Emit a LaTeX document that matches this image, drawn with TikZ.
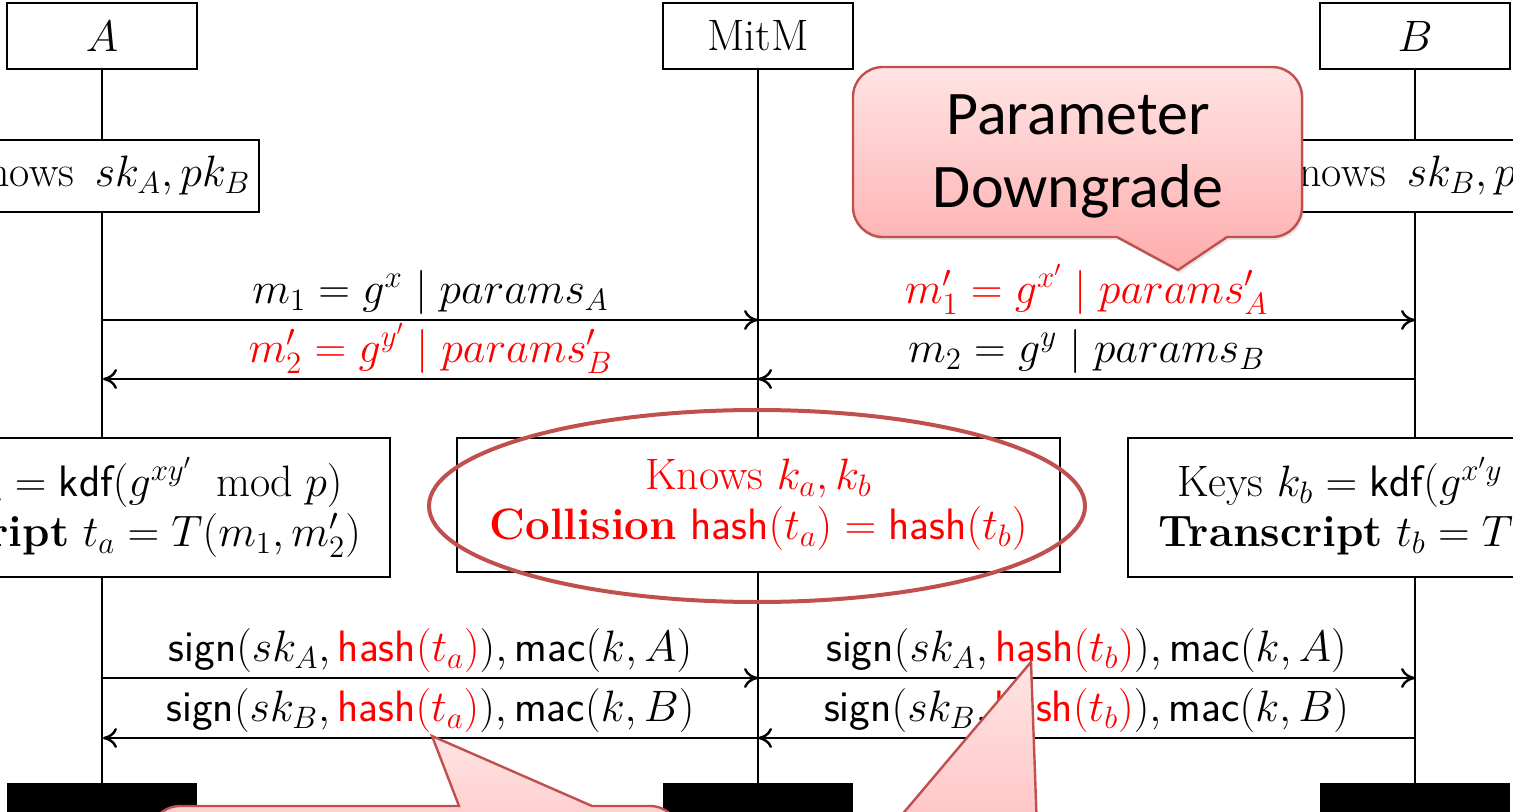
\RequirePackage{fix-cm}
\documentclass[tikz,border=0pt]{standalone}
\usepackage{fontspec}
\newfontfamily\calib{Carlito}
\usetikzlibrary{arrows.meta,shadows}
\DeclareMathSizes{22}{22}{15.5}{11}
\definecolor{calred}{RGB}{192,80,77}
\definecolor{pinktop}{RGB}{255,228,228}
\definecolor{pinkbot}{RGB}{255,172,172}
\definecolor{msgred}{RGB}{255,0,0}
\begin{document}
\begin{tikzpicture}[x=0.5pt,y=-0.5pt,
  every node/.style={font=\fontsize{22}{25}\selectfont},
  inst/.style={draw,line width=1.2pt,fill=white,minimum width=95pt,minimum height=33pt,inner sep=0pt},
  endbar/.style={fill=black,minimum width=95pt,minimum height=20pt,inner sep=0pt},
  actbox/.style={draw,line width=1.2pt,fill=white,inner sep=0pt,minimum height=36pt,minimum width=156pt},
  bigbox/.style={draw,line width=1.2pt,fill=white,align=center,inner sep=0pt,minimum height=69.5pt,minimum width=287pt},
  lifeline/.style={line width=1.2pt},
  msg/.style={line width=1.2pt,-{To[length=7pt,width=10pt,line width=1.2pt]}},
  lbl/.style={anchor=south,inner sep=2pt},
  callout/.style={draw=calred,line width=1.2pt,top color=pinktop,bottom color=pinkbot},
  calltext/.style={font=\calib\fontsize{31}{36.5}\selectfont,align=center,inner sep=0pt}
]
\useasboundingbox (0,0) rectangle (1513,812);
\clip (0,0) rectangle (1513,812);

% instance heads and ends
\node[inst] (hA) at (102,36) {$A$};
\node[inst] (hM) at (758,36) {MitM};
\node[inst] (hB) at (1415,36) {$B$};
\node[endbar] (eA) at (102,803) {};
\node[endbar] (eM) at (758,803) {};
\node[endbar] (eB) at (1415,803) {};

% lifelines
\draw[lifeline] (hA.south) -- (eA.north);
\draw[lifeline] (hM.south) -- (eM.north);
\draw[lifeline] (hB.south) -- (eB.north);

% knowledge boxes
\node[actbox] (kA) at (103,176) {Knows\ \,$sk_A, pk_B$};
\node[actbox] (kB) at (1415,176) {Knows\ \,$sk_B, pk_A$};

% messages 1
\coordinate (a1) at (103,320);
\coordinate (m1) at (758,320);
\coordinate (b1) at (1415,320);
\coordinate (a2) at (103,379);
\coordinate (m2) at (758,379);
\coordinate (b2) at (1415,379);
\draw[msg] (a1) -- node[lbl] (l1) {$m_1 = g^x \mid params_A$} (m1);
\draw[msg] (m1) -- node[lbl,text=msgred] (l2) {$m_1' = g^{x'} \mid params'_A$} (b1);
\draw[msg] (m2) -- node[lbl,text=msgred] (l3) {$m_2' = g^{y'} \mid params'_B$} (a2);
\draw[msg] (b2) -- node[lbl] (l4) {$m_2 = g^y \mid params_B$} (m2);

% key boxes
\node[bigbox] (sA) at (103,507.5) {Keys $k_a = \mathsf{kdf}(g^{xy'}\;\bmod p)$\\\textbf{Transcript} $t_a = T(m_1, m_2')$};
\node[bigbox,minimum width=301.5pt,minimum height=67pt,text=msgred] (sM) at (758.5,505) {Knows $k_a, k_b$\\\textbf{Collision} $\mathsf{hash}(t_a) = \mathsf{hash}(t_b)$};
\node[bigbox] (sB) at (1415,507.5) {Keys $k_b = \mathsf{kdf}(g^{x'y}\;\bmod p)$\\\textbf{Transcript} $t_b = T(m_1', m_2)$};

% messages 2
\coordinate (a3) at (103,678);
\coordinate (m3) at (758,678);
\coordinate (b3) at (1415,678);
\coordinate (a4) at (103,738);
\coordinate (m4) at (758,738);
\coordinate (b4) at (1415,738);
\draw[msg] (a3) -- node[lbl] (l5) {$\mathsf{sign}(sk_A, \textcolor{msgred}{\mathsf{hash}(t_a)}), \mathsf{mac}(k, A)$} (m3);
\draw[msg] (m3) -- node[lbl] (l6) {$\mathsf{sign}(sk_A, \textcolor{msgred}{\mathsf{hash}(t_b)}), \mathsf{mac}(k, A)$} (b3);
\draw[msg] (m4) -- node[lbl] (l7) {$\mathsf{sign}(sk_B, \textcolor{msgred}{\mathsf{hash}(t_a)}), \mathsf{mac}(k, B)$} (a4);
\draw[msg] (b4) -- node[lbl] (l8) {$\mathsf{sign}(sk_B, \textcolor{msgred}{\mathsf{hash}(t_b)}), \mathsf{mac}(k, B)$} (m4);

% highlight ellipse
\draw[calred,line width=2pt] (757,506) ellipse [x radius=164pt, y radius=48pt];

% top callout
\path[callout,drop shadow={opacity=0.2,shadow xshift=1pt,shadow yshift=-1.5pt}]
  (1117,237) -- (883,237) .. controls (866.4,237) and (853,223.6) .. (853,207)
  -- (853,97) .. controls (853,80.4) and (866.4,67) .. (883,67)
  -- (1272,67) .. controls (1288.6,67) and (1302,80.4) .. (1302,97)
  -- (1302,207) .. controls (1302,223.6) and (1288.6,237) .. (1272,237)
  -- (1227,237) -- (1178,270) -- cycle;
\node[calltext] (ct) at (1078,156) {Parameter\\Downgrade};

% bottom callouts (cut off by the frame)
\path[callout]
  (432,736) -- (592,806) -- (650,806) .. controls (666.6,806) and (680,819.4) .. (680,836)
  -- (680,950) -- (150,950) -- (150,836) .. controls (150,819.4) and (163.4,806) .. (180,806)
  -- (459,806) -- cycle;
\path[callout]
  (1031,662) -- (1037,830) -- (1370,830) .. controls (1386.6,830) and (1400,843.4) .. (1400,860)
  -- (1400,960) -- (800,960) -- (800,860) .. controls (800,843.4) and (813.4,830) .. (830,830)
  -- (889,830) -- cycle;
\end{tikzpicture}
\end{document}
